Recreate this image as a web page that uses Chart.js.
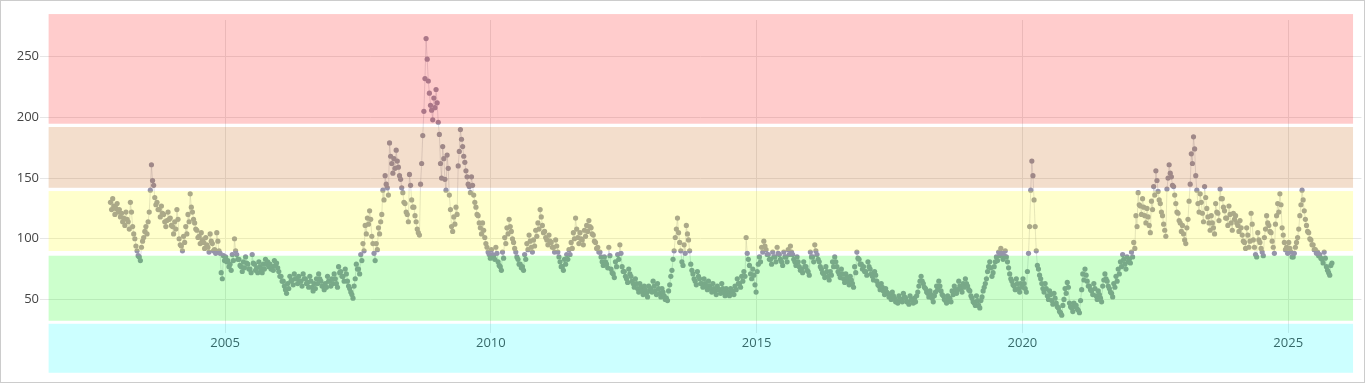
<!DOCTYPE html>
<html>
<head>
<meta charset="utf-8">
<script src="https://cdn.jsdelivr.net/npm/chart.js@4.4.1/dist/chart.umd.min.js"></script>
<style>
  html, body { margin: 0; padding: 0; background: #fff; }
  #wrap { width: 1365px; height: 383px; box-sizing: border-box; border: 1px solid #ccc; }
  canvas { display: block; }
</style>
</head>
<body>
<div id="wrap"><canvas id="chart" width="1363" height="381"></canvas></div>
<script>
// Weekly values (4 per month)
const v2002 = [130, 124, 133, 127, 120, 125, 129, 122];
const v2003 = [124,118, 121,114, 117,111, 122,116, 114,108, 130,122, 110,104, 100,94, 90,86, 85,82, 93,98, 101,106, 110,104, 114,122, 140,161, 148,144, 134,128, 130,124, 124,118, 127,121, 120,114, 110,115, 122,116, 117,111];
const v2004 = [110,104, 114,108, 124,116, 100,95, 94,90, 102,97, 110,104, 120,114, 137,126, 122,116, 113,108, 107,101, 102,96, 105,99, 97,92, 101,95, 93,89, 104,98, 96,90, 91,88, 105,98, 90,88, 72,67, 86,82];
const v2005 = [85,81, 82,77, 79,74, 87,82, 100,90, 87,83, 83,78, 77,73, 81,76, 85,80, 79,75, 75,72, 87,80, 79,74, 76,72, 81,77, 75,72, 79,75, 83,79, 81,77, 79,75, 77,74, 82,78, 80,76];
const v2006 = [73,69, 69,65, 65,61, 58,55, 63,59, 69,65, 66,62, 71,67, 67,63, 69,65, 65,61, 71,67, 67,63, 64,60, 69,65, 60,57, 63,59, 67,63, 71,67, 65,61, 61,58, 63,60, 69,65, 65,61];
const v2007 = [67,63, 71,67, 63,60, 77,72, 73,69, 69,65, 75,71, 65,61, 59,56, 54,51, 61,67, 79,75, 75,71, 87,82, 96,90, 111,104, 117,112, 123,116, 102,96, 88,82, 96,91, 109,104, 114,120, 140,132];
const v2008 = [152,145, 142,136, 179,168, 162,154, 166,158, 173,164, 159,152, 149,142, 138,130, 129,122, 120,114, 153,144, 132,126, 126,119, 114,108, 105,103, 145,162, 185,205, 232,265, 248,230, 220,210, 206,198, 216,208, 223,212];
const v2009 = [196,186, 162,150, 176,166, 149,140, 169,158, 136,124, 110,106, 118,112, 126,120, 160,172, 190,182, 176,168, 163,156, 151,145, 143,138, 151,144, 136,130, 126,120, 119,113, 109,104, 113,107, 101,96, 93,89, 87,84];
const v2010 = [91,87, 86,83, 93,88, 81,78, 77,74, 89,84, 101,96, 109,104, 116,110, 106,100, 97,92, 89,85, 83,79, 79,76, 77,74, 87,83, 96,91, 103,98, 93,89, 99,94, 107,102, 113,108, 124,118, 111,105];
const v2011 = [106,101, 99,95, 103,98, 97,93, 93,89, 99,94, 89,85, 81,77, 77,74, 83,79, 87,83, 91,87, 97,92, 105,100, 117,108, 101,96, 105,100, 99,95, 107,102, 111,106, 115,110, 109,104, 103,98, 97,92];
const v2012 = [93,89, 89,85, 81,78, 85,81, 79,76, 93,86, 75,72, 71,68, 81,77, 87,83, 95,88, 77,73, 73,69, 67,64, 75,71, 69,65, 63,60, 67,63, 59,56, 63,60, 57,54, 61,58, 55,52, 61,57];
const v2013 = [59,56, 65,61, 57,54, 63,59, 55,52, 59,56, 53,50, 51,49, 57,62, 69,74, 83,90, 101,108, 117,105, 97,90, 81,78, 95,88, 111,104, 99,90, 79,74, 71,67, 65,62, 73,69, 67,63, 63,60];
const v2014 = [67,63, 61,58, 65,61, 59,56, 63,59, 57,54, 61,58, 58,55, 63,59, 56,53, 59,56, 55,53, 59,56, 57,54, 61,58, 67,63, 63,60, 69,65, 73,69, 101,88, 83,78, 71,67, 75,70, 62,56];
const v2015 = [73,79, 85,81, 93,89, 98,94, 91,87, 87,83, 83,79, 89,85, 85,81, 93,88, 87,83, 81,78, 89,85, 85,81, 91,87, 94,89, 87,83, 81,78, 85,81, 77,74, 75,72, 81,77, 77,74, 73,70];
const v2016 = [89,85, 85,81, 95,90, 87,83, 81,77, 75,72, 71,68, 77,73, 69,66, 73,70, 81,77, 85,81, 77,73, 71,68, 75,71, 67,64, 71,68, 65,62, 69,66, 63,60, 77,72, 89,84, 83,79, 79,75];
const v2017 = [77,73, 73,70, 81,77, 75,71, 69,66, 73,70, 65,62, 61,58, 63,60, 57,54, 59,56, 55,52, 53,50, 56,53, 51,48, 49,47, 53,50, 50,48, 55,52, 51,48, 48,46, 53,50, 49,47, 51,48];
const v2018 = [53,56, 61,65, 69,65, 63,60, 59,56, 55,52, 57,54, 51,48, 53,56, 61,58, 65,61, 57,54, 53,50, 49,47, 53,50, 51,48, 57,54, 61,58, 55,58, 65,61, 59,56, 63,60, 67,63, 61,58];
const v2019 = [57,53, 51,48, 47,45, 53,49, 45,43, 49,52, 57,60, 63,67, 73,77, 81,76, 69,72, 77,81, 85,82, 89,86, 92,88, 83,86, 90,85, 81,76, 71,67, 65,62, 61,58, 67,63, 59,56, 63,60];
const v2020 = [67,63, 59,56, 73,88, 110,140, 164,152, 132,110, 90,78, 75,70, 67,63, 59,56, 63,59, 53,50, 57,54, 49,46, 55,51, 47,44, 43,40, 39,37, 45,50, 59,55, 64,60, 47,44, 43,40, 47,44];
const v2021 = [45,42, 41,39, 49,58, 71,66, 75,70, 65,61, 61,58, 57,54, 63,59, 53,50, 57,54, 51,48, 61,66, 71,67, 65,61, 59,56, 55,52, 63,60, 69,65, 75,71, 81,77, 87,83, 79,75, 85,81];
const v2022 = [83,80, 89,85, 97,92, 119,110, 138,128, 127,120, 133,126, 119,113, 125,118, 111,105, 131,124, 143,136, 156,148, 139,132, 129,122, 119,112, 107,102, 141,150, 161,154, 151,144, 143,136, 129,122, 121,115, 113,106];
const v2023 = [111,104, 99,96, 109,116, 131,145, 170,162, 184,174, 152,140, 129,122, 137,130, 121,114, 143,134, 125,118, 113,107, 119,113, 109,104, 129,122, 121,115, 141,133, 133,126, 123,117, 117,111, 127,120, 113,107, 121,116];
const v2024 = [119,113, 111,106, 115,109, 103,98, 97,92, 109,103, 93,98, 121,112, 99,93, 87,85, 105,99, 97,92, 89,86, 101,108, 119,113, 111,106, 105,98, 93,88, 112,119, 129,122, 137,128, 109,103, 97,91, 93,88];
const v2025 = [97,92, 89,85, 85,88, 93,97, 101,108, 119,128, 140,132, 123,116, 111,106, 105,100, 99,95, 95,91, 91,88, 89,86, 87,84, 83,80, 89,84, 77,74, 72,70, 78,80];

// [year, first weekly slot, values]
const series = [
    [2002, 40, v2002], [2003, 0, v2003], [2004, 0, v2004], [2005, 0, v2005],
    [2006, 0, v2006], [2007, 0, v2007], [2008, 0, v2008], [2009, 0, v2009],
    [2010, 0, v2010], [2011, 0, v2011], [2012, 0, v2012], [2013, 0, v2013],
    [2014, 0, v2014], [2015, 0, v2015], [2016, 0, v2016], [2017, 0, v2017],
    [2018, 0, v2018], [2019, 0, v2019], [2020, 0, v2020], [2021, 0, v2021],
    [2022, 0, v2022], [2023, 0, v2023], [2024, 0, v2024], [2025, 0, v2025]
];

// Background zones (value ranges)
const bandLow = [-10.5, 32.4, 89.9, 142.0, 194.8];
const bandHigh = [29.9, 86.0, 139.3, 192.1, 285.2];
const bandFrom = 2001.68;
const bandTo = 2026.22;
const bandColors = [
    'rgba(0, 255, 255, 0.2)',
    'rgba(0, 255, 0, 0.2)',
    'rgba(255, 255, 0, 0.2)',
    'rgba(195, 90, 0, 0.2)',
    'rgba(255, 0, 0, 0.2)'
];

// Axis ranges
const xMin = 2001.518, xMax = 2026.377;
const yMin = 22.3, yMax = 280.3;

const points = [];
series.forEach(([year, slot, vals]) => {
    vals.forEach((v, i) => {
        points.push({ x: year + (slot + i + 0.5) / 48, y: v });
    });
});

// Draw the zones on top, like the original
const bandPlugin = {
    id: 'bands',
    afterDraw(chart) {
        const { ctx, scales: { x, y } } = chart;
        const left = x.getPixelForValue(bandFrom);
        const right = x.getPixelForValue(bandTo);
        ctx.save();
        for (let i = 0; i < bandLow.length; i++) {
            const top = y.getPixelForValue(bandHigh[i]);
            const bottom = y.getPixelForValue(bandLow[i]);
            ctx.fillStyle = bandColors[i];
            ctx.fillRect(left, top, right - left, bottom - top);
        }
        ctx.restore();
    }
};

const tickFont = { family: 'Open Sans', size: 13 };

new Chart(document.getElementById('chart'), {
    type: 'scatter',
    data: {
        datasets: [{
            data: points,
            showLine: true,
            borderColor: 'rgba(150, 148, 170, 0.3)',
            borderWidth: 1,
            pointRadius: 2.6,
            pointBackgroundColor: 'rgb(150, 148, 170)',
            pointBorderWidth: 0,
            pointHoverRadius: 0
        }]
    },
    options: {
        responsive: false,
        animation: false,
        devicePixelRatio: 1,
        layout: { padding: { top: 19, right: 1, left: 0, bottom: 0 } },
        plugins: {
            legend: { display: false },
            tooltip: { enabled: false }
        },
        scales: {
            x: {
                type: 'linear',
                min: xMin,
                max: xMax,
                afterFit: s => { s.height = 49; },
                border: { display: false },
                grid: { color: '#e6e6e6', drawTicks: false },
                ticks: {
                    stepSize: 5,
                    includeBounds: false,
                    padding: 2,
                    maxRotation: 0,
                    color: '#444',
                    font: tickFont,
                    callback: v => String(v)
                }
            },
            y: {
                min: yMin,
                max: yMax,
                afterFit: s => { s.width = 39; },
                border: { display: false },
                grid: { color: '#e6e6e6', drawTicks: false },
                ticks: {
                    stepSize: 50,
                    includeBounds: false,
                    padding: 1,
                    color: '#444',
                    font: tickFont,
                    callback: v => String(v)
                }
            }
        }
    },
    plugins: [bandPlugin]
});
</script>
</body>
</html>
